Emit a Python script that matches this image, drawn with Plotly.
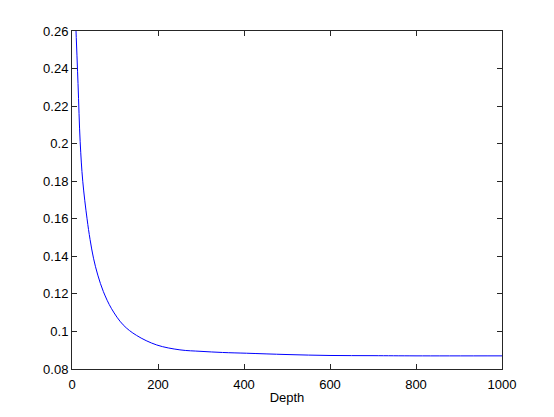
import plotly.graph_objects as go

depth = [8, 14, 19, 25, 35, 42, 50, 60, 73, 92, 119, 150, 197, 251, 300, 350, 406, 500, 600, 700, 800, 1000]
value = [0.268, 0.232, 0.201, 0.180, 0.160, 0.149, 0.139, 0.1300, 0.1212, 0.1121, 0.1035, 0.0979, 0.0928,
         0.0902, 0.0894, 0.0888, 0.0884, 0.0877, 0.0872, 0.0871, 0.0870, 0.0870]

x_ticks = [0, 200, 400, 600, 800, 1000]
x_labels = ["0", "200", "400", "600", "800", "1000"]
y_ticks = [0.08, 0.10, 0.12, 0.14, 0.16, 0.18, 0.20, 0.22, 0.24, 0.26]
y_labels = ["0.08", "0.1", "0.12", "0.14", "0.16", "0.18", "0.2", "0.22", "0.24", "0.26"]

fig = go.Figure(go.Scatter(x=depth, y=value, mode="lines",
                           line=dict(color="#0000ff", width=1, shape="spline", smoothing=1.0),
                           showlegend=False))

axis_common = dict(showline=True, linecolor="#262626", linewidth=1, mirror="ticks",
                   ticks="inside", ticklen=5, tickcolor="#262626", showgrid=False,
                   zeroline=False, tickfont=dict(family="Liberation Sans, Arial", size=13, color="black"))

fig.update_xaxes(range=[0, 1000], tickvals=x_ticks, ticktext=x_labels, ticklabelstandoff=3,
                 title=dict(text="Depth", font=dict(family="Liberation Sans, Arial", size=13, color="black"), standoff=2),
                 **axis_common)
fig.update_yaxes(range=[0.08, 0.26], tickvals=y_ticks, ticktext=y_labels, **axis_common)

fig.update_layout(width=546, height=409, margin=dict(l=64, r=52, t=23, b=48),
                  plot_bgcolor="white", paper_bgcolor="white")

fig.write_html("out.html")
